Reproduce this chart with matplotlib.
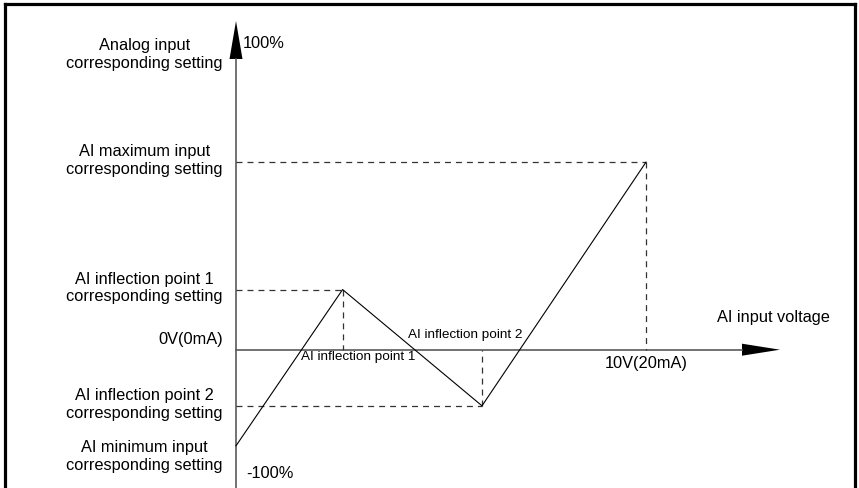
import matplotlib
matplotlib.use('Agg')
import matplotlib.pyplot as plt
from matplotlib.patches import Polygon

plt.rcParams['font.family'] = ['Liberation Sans', 'DejaVu Sans']
plt.rcParams['lines.scale_dashes'] = False

# curve points: input voltage (V) vs corresponding setting (schematic %)
input_v = [0.0, 2.6, 6.0, 10.0]
setting = [-31.0, 19.4, -18.1, 60.5]
point_names = ['AI minimum input\ncorresponding setting',
               'AI inflection point 1\ncorresponding setting',
               'AI inflection point 2\ncorresponding setting',
               'AI maximum input\ncorresponding setting']
y_title = 'Analog input\ncorresponding setting'
x_title = 'AI input voltage'
x_ticks = ['0V(0mA)', '10V(20mA)']
y_limits = ['100%', '-100%']

# pixel scale of the original drawing
W, H = 859, 489
x0_px, px_per_v = 236, 41.0
y0_px, px_per_pct = 350.7, 3.1

fig = plt.figure(figsize=(W / 100, H / 100), dpi=100)
ax = fig.add_axes([0, 0, 1, 1])
ax.set_xlim(-x0_px / px_per_v, (W - x0_px) / px_per_v)
ax.set_ylim(-(H - y0_px) / px_per_pct, y0_px / px_per_pct)
ax.axis('off')

# outer frame (no bottom edge)
frame_kw = dict(color='black', lw=2.3, transform=fig.transFigure, solid_capstyle='projecting')
fig.add_artist(plt.Line2D([4.7 / W, 4.7 / W], [0, 1 - 4.7 / H], **frame_kw))
fig.add_artist(plt.Line2D([4.7 / W, 855 / W], [1 - 4.7 / H, 1 - 4.7 / H], **frame_kw))
fig.add_artist(plt.Line2D([855 / W, 855 / W], [0, 1 - 4.7 / H], **frame_kw))

# axes with arrow heads
axis_col = '#5a5a5a'
y_bottom = ax.get_ylim()[0]
y_head_base, y_tip = (y0_px - 60) / px_per_pct, (y0_px - 22) / px_per_pct
x_head_base, x_tip = (742 - x0_px) / px_per_v, (780 - x0_px) / px_per_v
ax.plot([0, 0], [y_bottom, y_head_base], color=axis_col, lw=1.2)
ax.plot([0, x_head_base], [0, 0], color=axis_col, lw=1.2)
hw = 6.5 / px_per_v
ax.add_patch(Polygon([[-hw, y_head_base], [hw, y_head_base], [0, y_tip]],
                     closed=True, color='black', lw=0))
hh = 6.0 / px_per_pct
ax.add_patch(Polygon([[x_head_base, -hh], [x_head_base, hh], [x_tip, 0]],
                     closed=True, color='black', lw=0))

# dashed guide lines for the three upper points
dash_kw = dict(color='#333333', lw=0.9, dashes=(4.3, 3.6))
for xv, yv in zip(input_v[1:], setting[1:]):
    ax.plot([0, xv], [yv, yv], **dash_kw)
    ax.plot([xv, xv], [yv, 0], **dash_kw)

# the curve
ax.plot(input_v, setting, color='black', lw=0.8)

fs = 11.8
ls = 1.2
lab_x = -13 / px_per_v
off = 2.5 / px_per_pct
ax.text(lab_x, (y0_px - 54.5) / px_per_pct, y_title, ha='right', va='center',
        multialignment='center', fontsize=fs, linespacing=ls)
for name, yv in zip(point_names[1:], setting[1:]):
    ax.text(lab_x, yv + off, name, ha='right', va='center',
            multialignment='center', fontsize=fs, linespacing=ls)
ax.text(lab_x, (y0_px - 456.7) / px_per_pct, point_names[0], ha='right', va='center',
        multialignment='center', fontsize=fs, linespacing=ls)

ax.text(lab_x, 10.7 / px_per_pct, x_ticks[0], ha='right', va='center', fontsize=fs)
ax.text(input_v[-1], -12.6 / px_per_pct, x_ticks[1], ha='center', va='center', fontsize=fs)
ax.text(7 / px_per_v, (y0_px - 43) / px_per_pct, y_limits[0], ha='left', va='center', fontsize=fs)
ax.text(10.7 / px_per_v, (y0_px - 473.3) / px_per_pct, y_limits[1], ha='left', va='center', fontsize=fs)
ax.text((717.3 - x0_px) / px_per_v, 33.4 / px_per_pct, x_title, ha='left', va='center', fontsize=fs)

ax.text((300.7 - x0_px) / px_per_v, -6.6 / px_per_pct, 'AI inflection point 1',
        ha='left', va='center', fontsize=9.7)
ax.text((408.3 - x0_px) / px_per_v, 15.7 / px_per_pct, 'AI inflection point 2',
        ha='left', va='center', fontsize=9.7)

fig.savefig('out.png', dpi=100, facecolor='white')
plt.close()
